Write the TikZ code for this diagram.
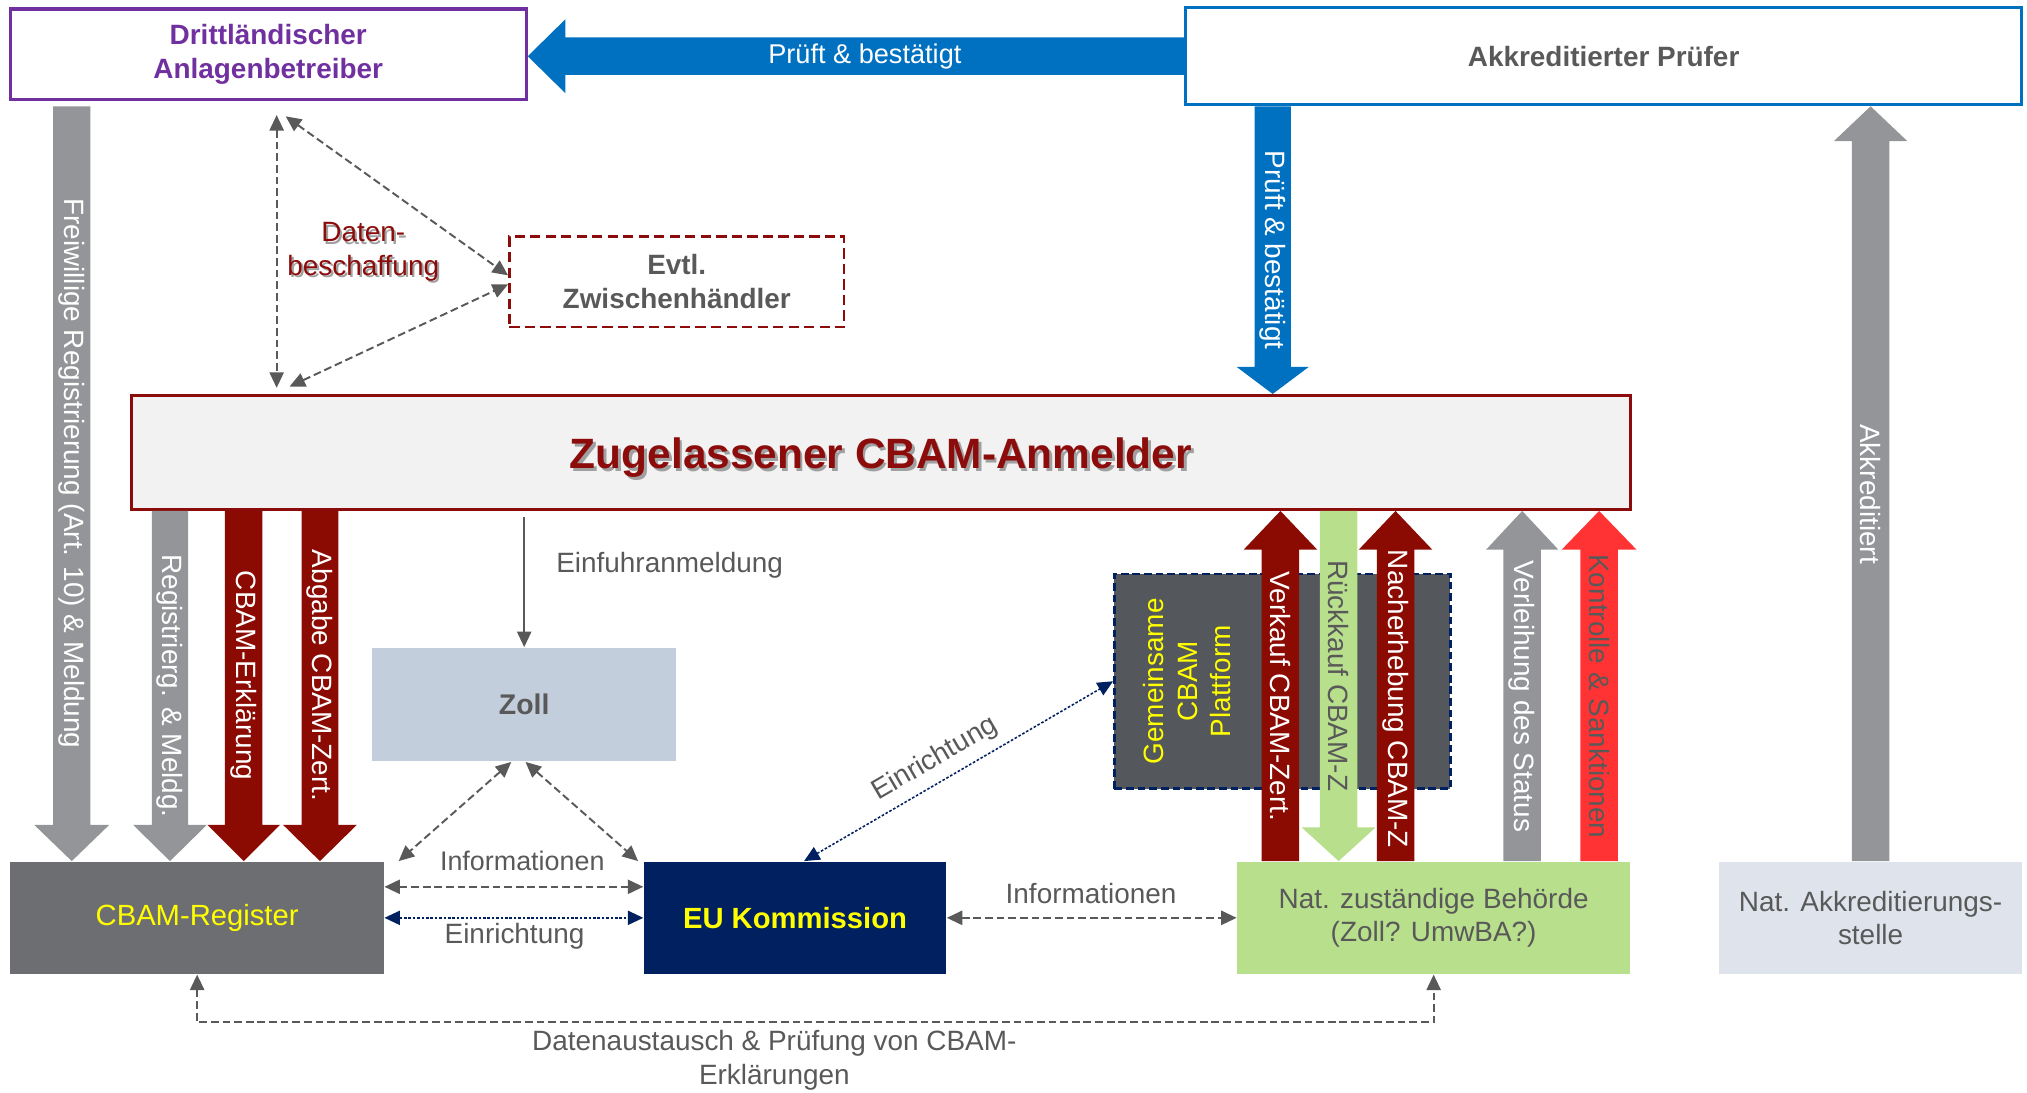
\documentclass[tikz,border=0pt]{standalone}
\usepackage{fontspec}
\setmainfont{Liberation Sans}
\usetikzlibrary{calc,arrows.meta}
\definecolor{txtgray}{HTML}{595959}
\definecolor{purp}{HTML}{7030A0}
\definecolor{bblue}{HTML}{0070C0}
\definecolor{agray}{HTML}{939598}
\definecolor{dred}{HTML}{8B0A02}
\definecolor{zugred}{HTML}{8C0C0C}
\definecolor{lgreen}{HTML}{B8DF8C}
\definecolor{bred}{HTML}{FF3333}
\definecolor{zollc}{HTML}{C3CEDC}
\definecolor{regc}{HTML}{6D6E71}
\definecolor{navy}{HTML}{002060}
\definecolor{platc}{HTML}{54575B}
\definecolor{akstc}{HTML}{DFE4EC}
\definecolor{zugfill}{HTML}{F2F2F2}
\definecolor{yel}{HTML}{FFFF00}
\definecolor{shadowc}{HTML}{A0A0A0}
\newcommand\myfs{\fontsize{10.8}{13}\selectfont}
\begin{document}
\begin{tikzpicture}[x=0.5pt,y=-0.5pt,
  >={Triangle[length=6pt,width=5.5pt]},
  box/.style={rectangle, inner sep=0pt, align=center, font=\myfs},
  fat/.style n args={3}{to path={
    ($(\tikztostart)!#1!90:(\tikztotarget)$)
    -- ($(\tikztotarget)!#3!(\tikztostart)!#1!-90:(\tikztostart)$)
    -- ($(\tikztotarget)!#3!(\tikztostart)!#2!-90:(\tikztostart)$)
    -- (\tikztotarget)
    -- ($(\tikztotarget)!#3!(\tikztostart)!#2!90:(\tikztostart)$)
    -- ($(\tikztotarget)!#3!(\tikztostart)!#1!90:(\tikztostart)$)
    -- ($(\tikztostart)!#1!-90:(\tikztotarget)$) -- cycle}},
  dasharr/.style={line width=0.75pt, draw=txtgray, dash pattern=on 3pt off 1.5pt},
  navyarr/.style={line width=0.6pt, draw=navy, dash pattern=on 1pt off 0.7pt},
  lbl/.style={font=\myfs, text=txtgray, align=center},
  vtxt/.style={font=\myfs, rotate=-90},
]
\useasboundingbox (0,0) rectangle (1568,845);

% ---------- boxes ----------
\node[box, draw=purp, line width=1.25pt, minimum width=199.5pt, minimum height=35pt,
      text=purp, font=\myfs\bfseries] (dritt) at (207.5,42) {Drittländischer\\Anlagenbetreiber};
\node[box, draw=bblue, line width=1.25pt, minimum width=323.5pt, minimum height=37.5pt,
      text=txtgray, font=\myfs\bfseries] (pruefer) at (1240.5,43.5) {Akkreditierter Prüfer};
\node[box, draw=zugred, line width=1pt, dash pattern=on 4pt off 2pt, minimum width=129.5pt,
      minimum height=35pt, text=txtgray, font=\myfs\bfseries] (zwh) at (523.5,218) {Evtl.\\Zwischenhändler};
\node[box, draw=zugred, fill=zugfill, line width=1.25pt, minimum width=579.5pt,
      minimum height=44pt] (zug) at (681.5,350) {};
\node[font=\fontsize{16.4}{19}\selectfont\bfseries, text=shadowc] at ([xshift=1pt,yshift=-3pt]zug.center) {Zugelassener CBAM-Anmelder};
\node[font=\fontsize{16.4}{19}\selectfont\bfseries, text=zugred] at ([yshift=-2pt]zug.center) {Zugelassener CBAM-Anmelder};
\node[box, fill=zollc, minimum width=117.5pt, minimum height=44pt, text=txtgray,
      font=\fontsize{11}{13}\selectfont\bfseries] (zoll) at (405.5,545) {Zoll};
\node[box, fill=regc, minimum width=144.5pt, minimum height=43.5pt, text=yel,
      font=\fontsize{11.3}{13}\selectfont] (reg) at (152.5,710) {CBAM-Register};
\node[box, fill=navy, minimum width=117pt, minimum height=43.5pt, text=yel,
      font=\fontsize{11.3}{13}\selectfont\bfseries] (euk) at (615,710) {EU Kommission};
\node[box, fill=lgreen, minimum width=152pt, minimum height=43.5pt, text=txtgray] (beh) at (1109,710) {Nat. zuständige Behörde\\(Zoll? UmwBA?)};
\node[box, fill=akstc, minimum width=117pt, minimum height=43.5pt, text=txtgray] (akst) at (1447,710) {Nat. Akkreditierungs-\\stelle};
\node[box, fill=platc, draw=navy, line width=1pt, dash pattern=on 3pt off 1.5pt,
      minimum width=130pt, minimum height=83pt] (plat) at (992,527) {};
\node[font=\myfs, text=yel, rotate=90, align=center] at (918.5,527) {Gemeinsame\\CBAM\\Plattform};

% ---------- helper x positions ----------
\coordinate (xF) at (55.5,0);
\coordinate (xR) at (131.5,0);
\coordinate (xE) at (188.5,0);
\coordinate (xG) at (247.5,0);
\coordinate (xPB) at (984.5,0);
\coordinate (xV) at (990.5,0);
\coordinate (xRk) at (1035.5,0);
\coordinate (xN) at (1079.5,0);
\coordinate (xS) at (1177.5,0);
\coordinate (xK) at (1237,0);

% ---------- fat arrows ----------
% blue horizontal
\coordinate (bh1) at (pruefer.west);
\coordinate (bh2) at (pruefer.west -| dritt.east);
\path[fill=bblue] (bh1) to[fat={7.25pt}{14.25pt}{14.5pt}] (bh2);
\node[font=\fontsize{10.5}{13}\selectfont, text=white] at ([xshift=3.5pt]$(bh1)!.5!(bh2)$) {Prüft \& bestätigt};
% blue vertical
\coordinate (bv1) at (xPB |- pruefer.south);
\coordinate (bv2) at (xPB |- zug.north);
\path[fill=bblue] (bv1) to[fat={7pt}{14pt}{10.5pt}] (bv2);
\node[vtxt, text=white] at ($(bv1)!.5!(bv2)$) {Prüft \& bestätigt};
% Akkreditiert
\coordinate (ak1) at (akst.north);
\coordinate (ak2) at (akst.north |- pruefer.south);
\path[fill=agray] (ak1) to[fat={7.25pt}{14.25pt}{13.5pt}] (ak2);
\node[vtxt, text=white] at ([yshift=-4pt]$(ak1)!.5!(ak2)$) {Akkreditiert};
% Freiwillige Registrierung
\coordinate (fA) at ([yshift=-2pt]xF |- dritt.south);
\coordinate (fB) at (xF |- reg.north);
\path[fill=agray] (fA) to[fat={7.25pt}{14.5pt}{14pt}] (fB);
\node[vtxt, text=white] at ([yshift=4pt]$(fA)!.5!(fB)$) {Freiwillige Registrierung (Art. 10) \& Meldung};
% Registrierg. & Meldg.
\coordinate (rA) at (xR |- zug.south);
\coordinate (rB) at (xR |- reg.north);
\path[fill=agray] (rA) to[fat={7pt}{14.25pt}{14pt}] (rB);
\node[vtxt, text=white] at ($(rA)!.5!(rB)$) {Registrierg. \& Meldg.};
% CBAM-Erklaerung
\coordinate (eA) at (xE |- zug.south);
\coordinate (eB) at (xE |- reg.north);
\path[fill=dred] (eA) to[fat={7.25pt}{14pt}{14pt}] (eB);
\node[vtxt, text=white] at ([yshift=4pt]$(eA)!.5!(eB)$) {CBAM-Erklärung};
% Abgabe CBAM-Zert.
\coordinate (gA) at (xG |- zug.south);
\coordinate (gB) at (xG |- reg.north);
\path[fill=dred] (gA) to[fat={7.1pt}{14.25pt}{14pt}] (gB);
\node[vtxt, text=white] at ([yshift=4pt]$(gA)!.5!(gB)$) {Abgabe CBAM-Zert.};
% Verkauf CBAM-Zert.
\coordinate (vA) at (xV |- beh.north);
\coordinate (vB) at (xV |- zug.south);
\path[fill=dred] (vA) to[fat={7.25pt}{14.25pt}{15pt}] (vB);
\node[vtxt, text=white] at ([yshift=-4pt]$(vA)!.5!(vB)$) {Verkauf CBAM-Zert.};
% Rueckkauf CBAM-Z
\coordinate (kA) at (xRk |- zug.south);
\coordinate (kB) at (xRk |- beh.north);
\path[fill=lgreen] (kA) to[fat={7.25pt}{14.25pt}{13pt}] (kB);
\node[vtxt, text=txtgray] at ([yshift=4pt]$(kA)!.5!(kB)$) {Rückkauf CBAM-Z};
% Nacherhebung CBAM-Z
\coordinate (nA) at (xN |- beh.north);
\coordinate (nB) at (xN |- zug.south);
\path[fill=dred] (nA) to[fat={7.25pt}{14.25pt}{15pt}] (nB);
\node[vtxt, text=white] at ([yshift=-5pt]$(nA)!.5!(nB)$) {Nacherhebung CBAM-Z};
% Verleihung des Status
\coordinate (sA) at (xS |- beh.north);
\coordinate (sB) at (xS |- zug.south);
\path[fill=agray] (sA) to[fat={7.25pt}{14pt}{15pt}] (sB);
\node[vtxt, text=white] at ([yshift=-4pt]$(sA)!.5!(sB)$) {Verleihung des Status};
% Kontrolle & Sanktionen
\coordinate (cA) at (xK |- beh.north);
\coordinate (cB) at (xK |- zug.south);
\path[fill=bred] (cA) to[fat={7.25pt}{14.5pt}{15pt}] (cB);
\node[vtxt, text=txtgray] at ([yshift=-4pt]$(cA)!.5!(cB)$) {Kontrolle \& Sanktionen};

% ---------- Datenbeschaffung triangle ----------
\coordinate (tA) at (214,89);
\coordinate (tB) at (214,300);
\coordinate (tA2) at (221,90);
\coordinate (tB2) at (224,299);
\draw[dasharr,<->] (tA) -- (tB);
\draw[dasharr,<->] (tA2) -- ([yshift=2.5pt]zwh.west);
\draw[dasharr,<->] (tB2) -- ([yshift=-1pt]zwh.west);
\node[font=\myfs, text=shadowc, align=center] at ([xshift=0.8pt,yshift=-1.8pt]281,193) {Daten-\\beschaffung};
\node[font=\myfs, text=zugred, align=center] at ([yshift=-1pt]281,193) {Daten-\\beschaffung};

% ---------- thin connectors ----------
\coordinate (ein) at (405.5,400);
\draw[line width=0.6pt, draw=txtgray, ->] (ein) -- (zoll.north);
\node[lbl] at (518,437) {Einfuhranmeldung};

\draw[dasharr,<->] ([xshift=-5pt]zoll.south) -- ([xshift=5.5pt]reg.north east);
\draw[dasharr,<->] ([xshift=0.5pt]zoll.south) -- ([xshift=-2pt]euk.north west);

\draw[dasharr,<->] ([yshift=12pt]reg.east) -- ([yshift=12pt]euk.west);
\node[lbl, font=\fontsize{10.4}{13}\selectfont] at (404,666) {Informationen};
\draw[navyarr,<->] (reg.east) -- (euk.west);
\node[lbl] at (398,724) {Einrichtung};

\draw[dasharr,<->] (euk.east) -- (beh.west);
\node[lbl] at (844,691) {Informationen};

\draw[navyarr,<->] ([xshift=3.5pt]euk.north) -- node[pos=0.46, sloped, above=0pt, lbl] {Einrichtung} (plat.west);

\draw[dasharr,<->] (reg.south) -- ++(0,37) -| (beh.south);
\node[lbl] at (599,820) {Datenaustausch \& Prüfung von CBAM-\\Erklärungen};
\end{tikzpicture}
\end{document}
